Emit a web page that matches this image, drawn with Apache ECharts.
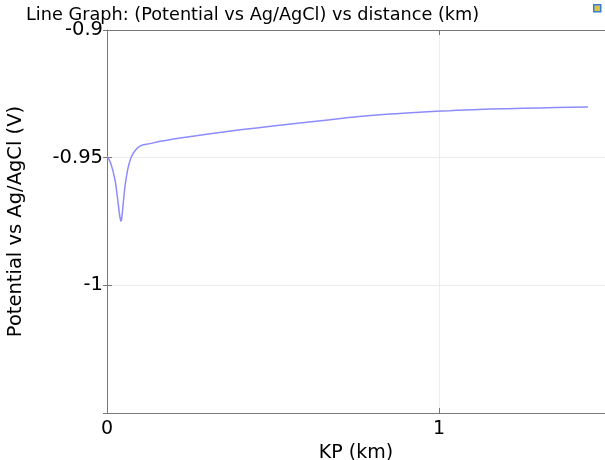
<!DOCTYPE html>
<html>
<head>
<meta charset="utf-8">
<script src="https://cdn.jsdelivr.net/npm/echarts@6/dist/echarts.min.js"></script>
<style>html,body{margin:0;padding:0;background:#fff}#c{width:605px;height:460px}</style>
</head>
<body>
<div id="c"></div>
<script>
const titleText = "Line Graph: (Potential vs Ag/AgCl) vs distance (km)";
const xName = "KP (km)";
const yName = "Potential vs Ag/AgCl (V)";
const distanceKm = [0, 0.011, 0.024, 0.031, 0.037, 0.040, 0.042, 0.044, 0.051, 0.057, 0.067, 0.079, 0.099, 0.130, 0.160, 0.220, 0.300, 0.401, 0.500, 0.581, 0.651, 0.752, 0.852, 0.952, 1.033, 1.102, 1.205, 1.304, 1.449];
const potentialV = [-0.9495, -0.9521, -0.9586, -0.9651, -0.9715, -0.9740, -0.9749, -0.9742, -0.9651, -0.9586, -0.9521, -0.9482, -0.9455, -0.9445, -0.9436, -0.9423, -0.9408, -0.9391, -0.9376, -0.9364, -0.9354, -0.9340, -0.9329, -0.9321, -0.9316, -0.9312, -0.9308, -0.9305, -0.9302];
const yTickLabels = {"-0.9": "-0.9", "-0.95": "-0.95", "-1": "-1"};

const chart = echarts.init(document.getElementById('c'), null, {renderer: 'canvas'});
const font = 'DejaVu Sans';
const axisCol = '#777';
chart.setOption({
  animation: false,
  textStyle: {fontFamily: font},
  title: {
    text: titleText, left: 21, top: 1,
    textStyle: {fontFamily: font, fontSize: 17.7, fontWeight: 'normal', color: '#000'}
  },
  graphic: [{
    type: 'rect', left: 593, top: 4,
    shape: {width: 7, height: 7},
    style: {fill: '#d8c640', stroke: '#3a7bd5', lineWidth: 1.5}
  }],
  grid: {left: 107, right: 0, top: 30, bottom: 47, outerBoundsMode: 'none', containLabel: false},
  xAxis: [{
    type: 'value', min: 0, max: 1.5, interval: 1,
    name: xName, nameLocation: 'middle', nameGap: 29,
    nameTextStyle: {fontFamily: font, fontSize: 19, color: '#000'},
    axisLine: {show: true, onZero: false, lineStyle: {color: axisCol, width: 1}},
    axisTick: {show: true, inside: true, length: 5, lineStyle: {color: axisCol}},
    axisLabel: {fontFamily: font, fontSize: 19, color: '#000', margin: 7, showMaxLabel: false},
    splitLine: {show: true, showMaxLine: false, showMinLine: false, lineStyle: {color: '#ececec', width: 1}}
  }, {
    type: 'value', position: 'top', min: 0, max: 1.5, interval: 1,
    axisLine: {show: true, onZero: false, lineStyle: {color: axisCol, width: 1}},
    axisTick: {show: true, inside: true, length: 5, lineStyle: {color: axisCol}},
    axisLabel: {show: false}, splitLine: {show: false}
  }],
  yAxis: [{
    type: 'value', min: -1.05, max: -0.9, interval: 0.05,
    name: yName, nameLocation: 'middle', nameGap: 81, nameRotate: 90,
    nameTextStyle: {fontFamily: font, fontSize: 19.5, color: '#000'},
    axisLine: {show: true, onZero: false, lineStyle: {color: axisCol, width: 1}},
    axisTick: {show: true, inside: true, length: 5, lineStyle: {color: axisCol}},
    axisLabel: {
      fontFamily: font, fontSize: 19.5, color: '#000', margin: 4,
      formatter: function (v) {
        const k = String(Math.round(v * 100) / 100);
        return yTickLabels[k] || '';
      }
    },
    splitLine: {show: true, showMaxLine: false, showMinLine: false, lineStyle: {color: '#ececec', width: 1}}
  }, {
    type: 'value', position: 'right', min: -1.05, max: -0.9, interval: 0.05,
    axisLine: {show: false},
    axisTick: {show: true, inside: true, length: 4, lineStyle: {color: axisCol}},
    axisLabel: {show: false}, splitLine: {show: false}
  }],
  series: [{
    type: 'line', showSymbol: false, smooth: 0.4,
    data: distanceKm.map((d, i) => [d, potentialV[i]]),
    lineStyle: {color: '#8c8cff', width: 1.5}
  }]
});
</script>
</body>
</html>
